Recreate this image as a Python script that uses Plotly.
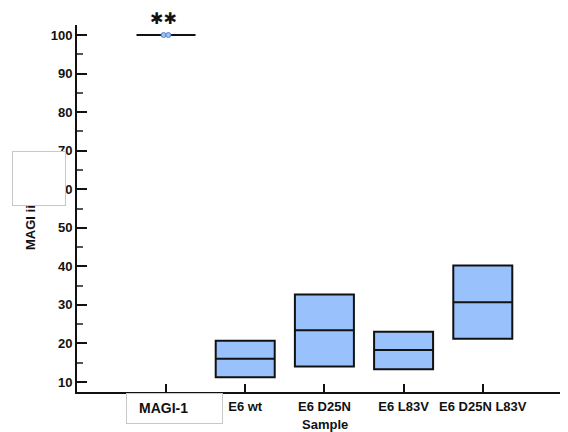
import plotly.graph_objects as go

categories = ["MAGI-1", "E6 wt", "E6 D25N", "E6 L83V", "E6 D25N L83V"]
q1_values = [100.0, 11.2, 14.0, 13.3, 21.2]
median_values = [100.0, 16.0, 23.4, 18.3, 30.7]
q3_values = [100.0, 20.7, 32.7, 23.0, 40.2]
magi_points = [100.0, 100.0]
point_offsets = [-0.03, 0.03]
y_title = "MAGI ii"
x_title = "Sample"
significance = "\u2731\u2731"

positions = list(range(len(categories)))
FONT = "Liberation Sans, Arial, sans-serif"
FILL = "#99c2fd"

# the first category's label is drawn in its own framed box below
tick_labels = [""] + ["<b>%s</b>" % c for c in categories[1:]]

fig = go.Figure()
fig.add_trace(go.Box(
    x=positions, q1=q1_values, median=median_values, q3=q3_values,
    lowerfence=q1_values, upperfence=q3_values,
    width=0.745, whiskerwidth=0, boxpoints=False,
    fillcolor=FILL, line=dict(color="#111111", width=2),
    showlegend=False, hoverinfo="skip",
))
fig.add_trace(go.Scatter(
    x=[positions[0] + d for d in point_offsets], y=magi_points,
    mode="markers",
    marker=dict(size=5, color=FILL, line=dict(color="#5b86c8", width=1)),
    showlegend=False, hoverinfo="skip",
))

fig.update_layout(
    width=560, height=424,
    margin=dict(l=69, r=0, t=17, b=40),
    paper_bgcolor="white", plot_bgcolor="white",
    font=dict(family=FONT, color="#111111"),
    xaxis=dict(
        range=[-1.124, 5.076], tickvals=positions,
        ticktext=tick_labels,
        tickfont=dict(size=13, family=FONT),
        ticks="inside", ticklen=8, tickwidth=2, tickcolor="#111111",
        ticklabelstandoff=1,
        showline=True, linewidth=2, linecolor="#111111",
        showgrid=False, zeroline=False, automargin=False,
    ),
    yaxis=dict(
        range=[7.4, 102.6], tick0=0, dtick=10,
        tickformat="d",
        tickfont=dict(size=13, family=FONT, weight="bold"),
        ticks="inside", ticklen=10, tickwidth=2, tickcolor="#111111",
        minor=dict(dtick=5, tick0=0, ticks="inside", ticklen=6, tickwidth=1.5, tickcolor="#555555"),
        showline=True, linewidth=2, linecolor="#111111",
        showgrid=False, zeroline=False, automargin=False,
    ),
)

common = dict(xanchor="center", yanchor="middle", showarrow=False)
annotations = [
    dict(text="<b>%s</b>" % y_title, textangle=-90, xref="paper", yref="paper",
         x=-0.0937, y=0.4496, font=dict(size=13), **common),
    dict(text=" ", xref="paper", yref="paper", x=-0.0764, y=0.5804,
         width=52, height=53, bgcolor="white", bordercolor="#c8c8c8",
         borderwidth=1, borderpad=0, **common),
    dict(text=" ", xref="paper", yref="paper", x=0.1976, y=-0.0463,
         width=95, height=29, bgcolor="white", bordercolor="#c8c8c8",
         borderwidth=1, borderpad=0, **common),
    dict(text="<b>%s</b>" % categories[0], xref="paper", yref="paper",
         x=0.1752, y=-0.0436, font=dict(size=14), **common),
    dict(text="<b>%s</b>" % x_title, xref="paper", yref="paper",
         x=0.505, y=-0.0899, font=dict(size=13), **common),
    dict(text=significance, xref="x", yref="y",
         x=positions[0] - 0.03, y=magi_points[0], yshift=17,
         font=dict(size=16, family="DejaVu Sans"), **common),
]
fig.update_layout(annotations=annotations)

fig.write_html("out.html")
